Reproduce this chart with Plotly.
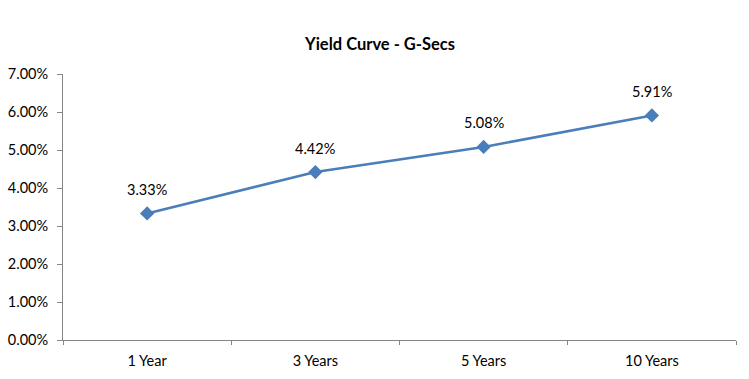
import plotly.graph_objects as go

categories = ["1 Year", "3 Years", "5 Years", "10 Years"]
yields = [0.0333, 0.0442, 0.0508, 0.0591]
labels = ["3.33%", "4.42%", "5.08%", "5.91%"]

FONT = "Lato, 'Open Sans', sans-serif"
AXIS_COLOR = "#868686"
LINE_COLOR = "#4A7EBB"

fig = go.Figure()
fig.add_trace(go.Scatter(
    x=categories, y=yields, mode="lines+markers",
    line=dict(color=LINE_COLOR, width=2.5),
    marker=dict(symbol="diamond", size=11, color=LINE_COLOR),
    cliponaxis=False, showlegend=False,
))
for c, v, t in zip(categories, yields, labels):
    fig.add_annotation(x=c, y=v, text=t, showarrow=False, yshift=24,
                       font=dict(family=FONT, size=14.5, color="#000000"))

fig.update_layout(
    width=749, height=379,
    margin=dict(l=63, r=13, t=74, b=38.5),
    paper_bgcolor="white", plot_bgcolor="white",
    font=dict(family=FONT, size=14.5, color="#000000"),
    title=dict(text="<b>Yield Curve - G-Secs</b>", x=380/749, xanchor="center",
               y=1 - 44/379, yanchor="middle", font=dict(size=16.5, family=FONT)),
)
fig.update_xaxes(
    type="category", range=[-0.5, 3.5], showgrid=False, automargin=False,
    showline=True, linecolor=AXIS_COLOR, linewidth=1,
    ticks="outside", tickson="boundaries", ticklen=4, tickcolor=AXIS_COLOR,
    ticklabelstandoff=8,
    tickfont=dict(size=14.5, family=FONT), zeroline=False,
)
fig.update_yaxes(
    range=[0, 0.07], dtick=0.01, tickformat=".2%", showgrid=False, automargin=False,
    showline=True, linecolor=AXIS_COLOR, linewidth=1,
    ticks="outside", ticklen=5, tickcolor=AXIS_COLOR,
    ticklabelstandoff=6,
    tickfont=dict(size=14.5, family=FONT), zeroline=False,
)

fig.write_html("out.html", config={"displayModeBar": False},
               post_script="document.body.style.margin='0';")
